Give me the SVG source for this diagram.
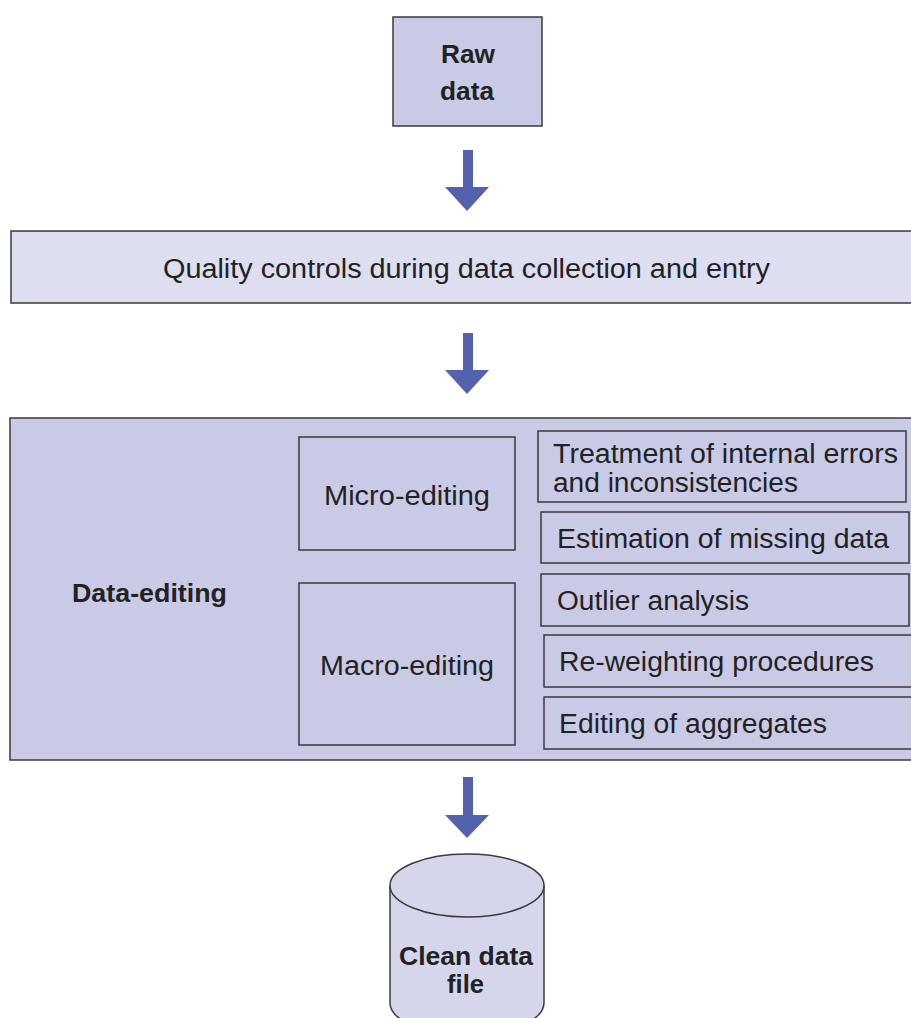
<svg xmlns="http://www.w3.org/2000/svg" width="911" height="1018" viewBox="0 0 911 1018">
<style>
.box{stroke:#3a3a3a;stroke-width:1.5}
.mid{fill:#c9cae6}
.light{fill:#dddeef}
.t{font-family:"Liberation Sans",Arial,sans-serif;font-size:27px;fill:#222}
.b{font-family:"Liberation Sans",Arial,sans-serif;font-size:26px;font-weight:bold;fill:#222}
.arrow{fill:#5462ad}
</style>
<rect width="911" height="1018" fill="#ffffff"/>
<g id="raw-data">
<rect class="box mid" x="393" y="17" width="149" height="109"/>
<text class="b" x="441" y="63" textLength="54" lengthAdjust="spacingAndGlyphs">Raw</text>
<text class="b" x="440" y="100" textLength="54" lengthAdjust="spacingAndGlyphs">data</text>
</g>
<g id="quality-controls">
<rect class="box light" x="11" y="231" width="910" height="72"/>
<text class="t" x="163" y="278" textLength="607" lengthAdjust="spacingAndGlyphs">Quality controls during data collection and entry</text>
</g>
<g id="data-editing">
<rect class="box mid" x="10" y="418" width="910" height="342"/>
<text class="b" x="72" y="602" textLength="155" lengthAdjust="spacingAndGlyphs">Data-editing</text>
</g>
<g id="micro-editing">
<rect class="box mid" x="299" y="437" width="216" height="113"/>
<text class="t" x="324" y="505" textLength="166" lengthAdjust="spacingAndGlyphs">Micro-editing</text>
</g>
<g id="macro-editing">
<rect class="box mid" x="299" y="583" width="216" height="162"/>
<text class="t" x="320" y="675" textLength="174" lengthAdjust="spacingAndGlyphs">Macro-editing</text>
</g>
<g id="treatment">
<rect class="box mid" x="538" y="431" width="368" height="71"/>
<text class="t" x="553" y="463" textLength="345" lengthAdjust="spacingAndGlyphs">Treatment of internal errors</text>
<text class="t" x="553" y="492" textLength="245" lengthAdjust="spacingAndGlyphs">and inconsistencies</text>
</g>
<g id="estimation">
<rect class="box mid" x="541" y="512" width="368" height="51"/>
<text class="t" x="557" y="548" textLength="332" lengthAdjust="spacingAndGlyphs">Estimation of missing data</text>
</g>
<g id="outlier">
<rect class="box mid" x="541" y="574" width="368" height="52"/>
<text class="t" x="557" y="610" textLength="192" lengthAdjust="spacingAndGlyphs">Outlier analysis</text>
</g>
<g id="reweighting">
<rect class="box mid" x="544" y="635" width="380" height="52"/>
<text class="t" x="559" y="671" textLength="315" lengthAdjust="spacingAndGlyphs">Re-weighting procedures</text>
</g>
<g id="aggregates">
<rect class="box mid" x="544" y="697" width="380" height="52"/>
<text class="t" x="559" y="733" textLength="268" lengthAdjust="spacingAndGlyphs">Editing of aggregates</text>
</g>
<g id="clean-data-file">
<path class="box" fill="#d5d6eb" d="M390,885.5 V1003 A77,31.5 0 0 0 544,1003 V885.5"/>
<ellipse class="box" fill="#d5d6eb" cx="467" cy="885.5" rx="77" ry="31.5"/>
<text class="b" x="399" y="965" textLength="134" lengthAdjust="spacingAndGlyphs">Clean data</text>
<text class="b" x="447" y="993" textLength="37" lengthAdjust="spacingAndGlyphs">file</text>
</g>
<g id="connectors">
<path class="arrow" d="M463,150 H473 V187 H489 L467,211 L445,187 H463 Z"/>
<path class="arrow" d="M463,333 H473 V370 H489 L467,394 L445,370 H463 Z"/>
<path class="arrow" d="M463,777 H473 V815 H489 L467,838 L445,815 H463 Z"/>
</g>
</svg>
